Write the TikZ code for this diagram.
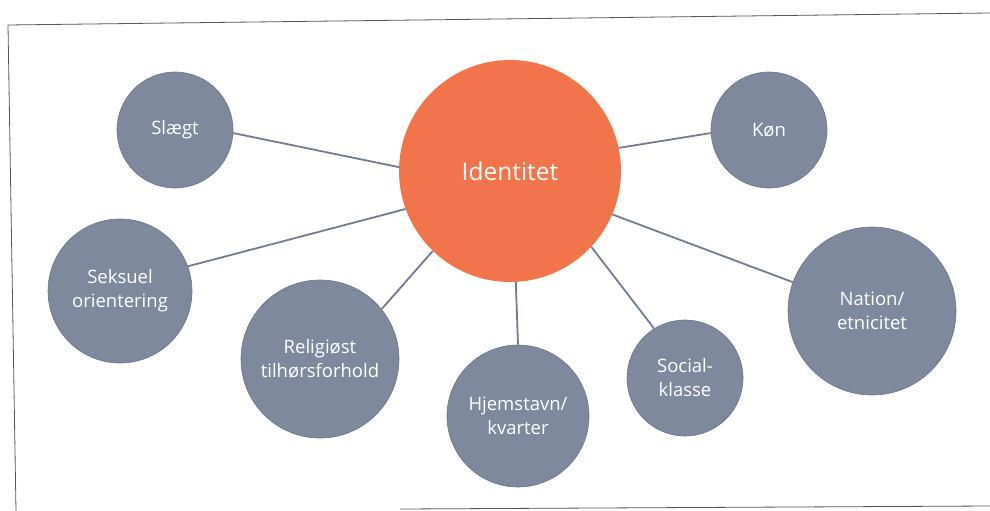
\documentclass[tikz,border=0pt]{standalone}
\usepackage{fontspec}
\setmainfont{Open Sans}
\definecolor{bubble}{HTML}{7E899E}
\definecolor{core}{HTML}{F2744B}
\definecolor{link}{HTML}{6F7C96}
\definecolor{frame}{HTML}{555555}
\begin{document}
\begin{tikzpicture}[x=1pt,y=-1pt,
  bub/.style={circle,fill=bubble,draw=bubble!85!black,line width=0.6pt,inner sep=0pt,
    text=white,font=\fontsize{18.5}{24}\selectfont,align=center},
  mid/.style={circle,fill=core,inner sep=0pt,text=white,font=\fontsize{24.5}{28}\selectfont},
  conn/.style={draw=link,line width=1.8pt}]
\useasboundingbox (0,0) rectangle (990,511);
% frame
\draw[frame,line width=0.8pt] (8,25) -- (990,13);
\draw[frame,line width=0.8pt] (8,25) -- (16,511);
\draw[frame,line width=0.8pt] (400,509) -- (990,506);
% nodes
\node[mid,minimum size=222pt] (id) at (510,171) {Identitet};
\node[bub,minimum size=116pt] (slaegt) at (175,130) {Slægt};
\node[bub,minimum size=116pt] (kon) at (769,130) {Køn};
\node[bub,minimum size=144pt] (seks) at (120,291) {Seksuel\\orientering};
\node[bub,minimum size=158pt] (rel) at (320,359) {Religiøst\\tilhørsforhold};
\node[bub,minimum size=142pt] (hjem) at (518,416) {Hjemstavn/\\kvarter};
\node[bub,minimum size=116pt] (soc) at (685,378) {Social-\\klasse};
\node[bub,minimum size=168pt] (nat) at (872,311) {Nation/\\etnicitet};
% connectors
\draw[conn] (slaegt.-3) -- (id.178);
\draw[conn] (kon.183) -- (id.12.5);
\draw[conn] (seks.20) -- (id.200.7);
\draw[conn] (rel.39.5) -- (id.226.4);
\draw[conn] (hjem.90.8) -- (id.273.6);
\draw[conn] (soc.122.3) -- (id.-43.9);
\draw[conn] (nat.160) -- (id.-23.6);
\end{tikzpicture}
\end{document}
